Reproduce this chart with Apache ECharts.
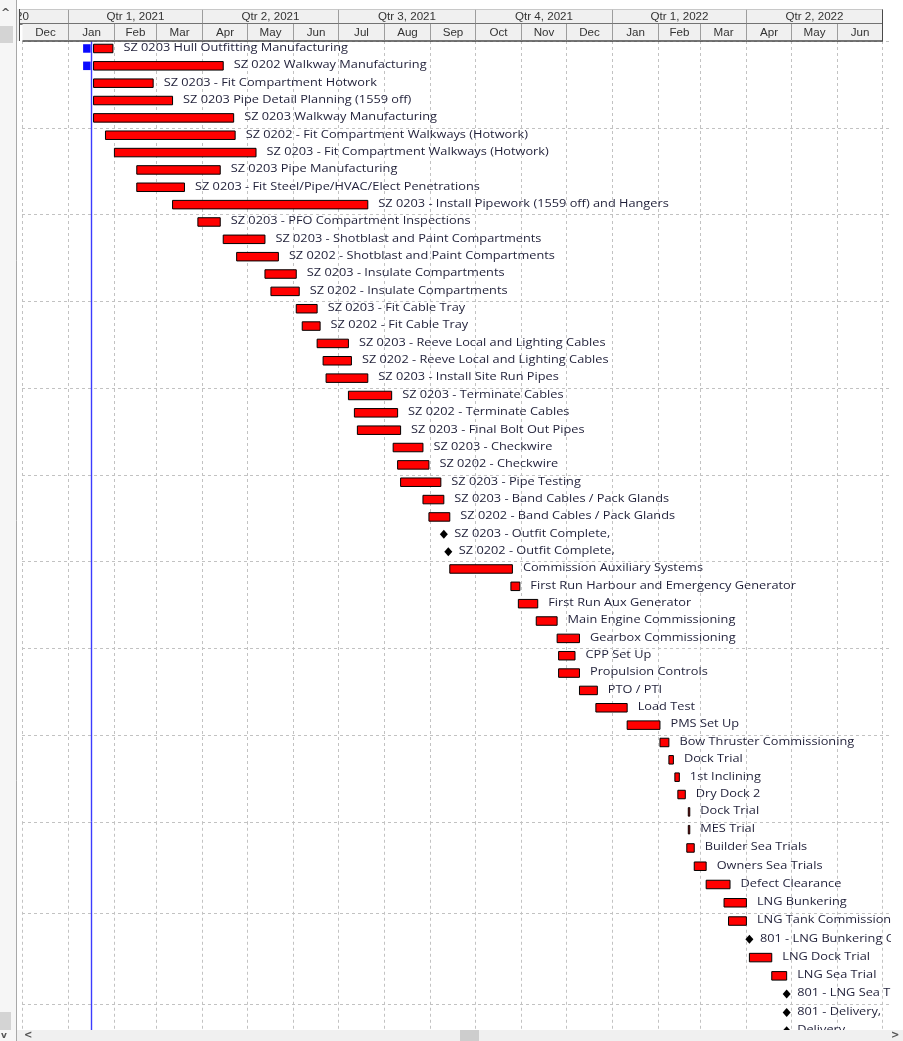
<!DOCTYPE html>
<html>
<head>
<meta charset="utf-8">
<title>Outfitting Gantt</title>
<script src="https://cdn.jsdelivr.net/npm/echarts@6/dist/echarts.min.js"></script>
<style>
  html, body { margin: 0; padding: 0; background: #fff; }
  #chart { width: 903px; height: 1041px; }
</style>
</head>
<body>
<div id="chart"></div>
<script>
// ---------------------------------------------------------------------------
// Data
// ---------------------------------------------------------------------------

const quarterLabels = ['Qtr 4, 2020', 'Qtr 1, 2021', 'Qtr 2, 2021', 'Qtr 3, 2021', 'Qtr 4, 2021', 'Qtr 1, 2022', 'Qtr 2, 2022']
const quarterStarts = ['2020-10-01', '2021-01-01', '2021-04-01', '2021-07-01', '2021-10-01', '2022-01-01', '2022-04-01']
const quarterEnds   = ['2021-01-01', '2021-04-01', '2021-07-01', '2021-10-01', '2022-01-01', '2022-04-01', '2022-07-01']

const monthLabels = ['Dec', 'Jan', 'Feb', 'Mar', 'Apr', 'May', 'Jun', 'Jul', 'Aug', 'Sep', 'Oct', 'Nov', 'Dec',
  'Jan', 'Feb', 'Mar', 'Apr', 'May', 'Jun']
const monthStarts = ['2020-12-01', '2021-01-01', '2021-02-01', '2021-03-01', '2021-04-01', '2021-05-01', '2021-06-01',
  '2021-07-01', '2021-08-01', '2021-09-01', '2021-10-01', '2021-11-01', '2021-12-01',
  '2022-01-01', '2022-02-01', '2022-03-01', '2022-04-01', '2022-05-01', '2022-06-01']
const monthEnds = ['2021-01-01', '2021-02-01', '2021-03-01', '2021-04-01', '2021-05-01', '2021-06-01', '2021-07-01',
  '2021-08-01', '2021-09-01', '2021-10-01', '2021-11-01', '2021-12-01', '2022-01-01',
  '2022-02-01', '2022-03-01', '2022-04-01', '2022-05-01', '2022-06-01', '2022-07-01']

const taskNames = [
  'SZ 0203 Hull Outfitting Manufacturing',
  'SZ 0202 Walkway Manufacturing',
  'SZ 0203 - Fit Compartment Hotwork',
  'SZ 0203 Pipe Detail Planning (1559 off)',
  'SZ 0203 Walkway Manufacturing',
  'SZ 0202 - Fit Compartment Walkways (Hotwork)',
  'SZ 0203 - Fit Compartment Walkways (Hotwork)',
  'SZ 0203 Pipe Manufacturing',
  'SZ 0203 - Fit Steel/Pipe/HVAC/Elect Penetrations',
  'SZ 0203 - Install Pipework (1559 off) and Hangers',
  'SZ 0203 - PFO Compartment Inspections',
  'SZ 0203 - Shotblast and Paint Compartments',
  'SZ 0202 - Shotblast and Paint Compartments',
  'SZ 0203 - Insulate Compartments',
  'SZ 0202 - Insulate Compartments',
  'SZ 0203 - Fit Cable Tray',
  'SZ 0202 - Fit Cable Tray',
  'SZ 0203 - Reeve Local and Lighting Cables',
  'SZ 0202 - Reeve Local and Lighting Cables',
  'SZ 0203 - Install Site Run Pipes',
  'SZ 0203 - Terminate Cables',
  'SZ 0202 - Terminate Cables',
  'SZ 0203 - Final Bolt Out Pipes',
  'SZ 0203 - Checkwire',
  'SZ 0202 - Checkwire',
  'SZ 0203 - Pipe Testing',
  'SZ 0203 - Band Cables / Pack Glands',
  'SZ 0202 - Band Cables / Pack Glands',
  'SZ 0203 - Outfit Complete,',
  'SZ 0202 - Outfit Complete,',
  'Commission Auxiliary Systems',
  'First Run Harbour and Emergency Generator',
  'First Run Aux Generator',
  'Main Engine Commissioning',
  'Gearbox Commissioning',
  'CPP Set Up',
  'Propulsion Controls',
  'PTO / PTI',
  'Load Test',
  'PMS Set Up',
  'Bow Thruster Commissioning',
  'Dock Trial',
  '1st Inclining',
  'Dry Dock 2',
  'Dock Trial',
  'MES Trial',
  'Builder Sea Trials',
  'Owners Sea Trials',
  'Defect Clearance',
  'LNG Bunkering',
  'LNG Tank Commissioning',
  '801 - LNG Bunkering Complete,',
  'LNG Dock Trial',
  'LNG Sea Trial',
  '801 - LNG Sea Trial Complete,',
  '801 - Delivery,',
  'Delivery',
]

const taskStarts = [
  '2021-01-18', '2021-01-18', '2021-01-18', '2021-01-18', '2021-01-18',
  '2021-01-26', '2021-02-01', '2021-02-16', '2021-02-16', '2021-03-12',
  '2021-03-29', '2021-04-15', '2021-04-24', '2021-05-13', '2021-05-17',
  '2021-06-03', '2021-06-07', '2021-06-17', '2021-06-21', '2021-06-23',
  '2021-07-08', '2021-07-12', '2021-07-14', '2021-08-07', '2021-08-10',
  '2021-08-12', '2021-08-27', '2021-08-31', '2021-09-10', '2021-09-13',
  '2021-09-14', '2021-10-25', '2021-10-30', '2021-11-11', '2021-11-25',
  '2021-11-26', '2021-11-26', '2021-12-10', '2021-12-21', '2022-01-11',
  '2022-02-02', '2022-02-08', '2022-02-12', '2022-02-14', '2022-02-21',
  '2022-02-21', '2022-02-20', '2022-02-25', '2022-03-05', '2022-03-17',
  '2022-03-20', '2022-04-03', '2022-04-03', '2022-04-18', '2022-04-28',
  '2022-04-28', '2022-04-28',
]

// null = milestone (diamond)
const taskEnds = [
  '2021-01-31', '2021-04-15', '2021-02-27', '2021-03-12', '2021-04-22',
  '2021-04-23', '2021-05-07', '2021-04-13', '2021-03-20', '2021-07-21',
  '2021-04-13', '2021-05-13', '2021-05-22', '2021-06-03', '2021-06-05',
  '2021-06-17', '2021-06-19', '2021-07-08', '2021-07-10', '2021-07-21',
  '2021-08-06', '2021-08-10', '2021-08-12', '2021-08-27', '2021-08-31',
  '2021-09-08', '2021-09-10', '2021-09-14', null, null,
  '2021-10-26', '2021-10-31', '2021-11-12', '2021-11-25', '2021-12-10',
  '2021-12-07', '2021-12-10', '2021-12-22', '2022-01-11', '2022-02-02',
  '2022-02-08', '2022-02-11', '2022-02-15', '2022-02-19', '2022-02-22',
  '2022-02-22', '2022-02-25', '2022-03-05', '2022-03-21', '2022-04-01',
  '2022-04-01', null, '2022-04-18', '2022-04-28', null,
  null, null,
]

// small blue blocks ahead of the first two tasks
const earlyRows = [0, 1]
const earlyStarts = ['2021-01-11', '2021-01-11']
const earlyEnds = ['2021-01-16', '2021-01-16']

const statusDate = '2021-01-16'

// ---------------------------------------------------------------------------
// Layout / style
// ---------------------------------------------------------------------------

const SPLIT_ROW = 45          // rows after this one are drawn a bit taller
const ROW_H_A = 17.35
const ROW_H_B = 18.4
const BODY_TOP = 41
const BAR_H = 8.5
const BAR_SHIFT = -1.2
const TEXT_SHIFT = -2
const LABEL_GAP = 10.5
const TEXT_STRETCH = 1.16     // the screenshot is stretched sideways
const QTR_H = 15
const MON_H = 17
const LABEL_FONT = '11px "Open Sans"'
const LABEL_COLOR = '#1f1f38'
const HEAD_FONT = '10px "Liberation Sans"'
const GRID_COLOR = '#c2c2c2'

const ts = (s) => new Date(s + 'T00:00:00').getTime()

const X_MIN = ts('2020-12-01')
const X_MAX = ts('2022-07-07')

const gridA = { left: 22, right: 12, top: BODY_TOP, height: SPLIT_ROW * ROW_H_A }
const gridB = { left: 22, right: 12, top: BODY_TOP + SPLIT_ROW * ROW_H_A, height: (taskNames.length - SPLIT_ROW) * ROW_H_B }
const gridH = { left: 22, right: 12, top: 9, height: QTR_H + MON_H }

// ---------------------------------------------------------------------------
// Render helpers
// ---------------------------------------------------------------------------

function renderTask(params, api) {
  const i = api.value(3)
  const row = api.value(2)
  const p0 = api.coord([api.value(0), row])
  const p1 = api.coord([api.value(1), row])
  const barY = p0[1] + BAR_SHIFT
  const children = []
  let textX
  if (taskEnds[i] === null) {
    children.push({
      type: 'polygon',
      shape: { points: [[p0[0], barY - 4.5], [p0[0] + 4, barY], [p0[0], barY + 4.5], [p0[0] - 4, barY]] },
      style: { fill: '#000' },
    })
    textX = p0[0] + LABEL_GAP
  } else {
    children.push({
      type: 'rect',
      shape: { x: p0[0], y: barY - BAR_H / 2, width: Math.max(p1[0] - p0[0], 0.5), height: BAR_H },
      style: { fill: '#ff0000', stroke: '#000', lineWidth: 1 },
    })
    textX = p1[0] + LABEL_GAP
  }
  children.push({
    type: 'text',
    x: textX,
    y: p0[1] + TEXT_SHIFT,
    scaleX: TEXT_STRETCH,
    style: { text: taskNames[i], font: LABEL_FONT, fill: LABEL_COLOR, align: 'left', verticalAlign: 'middle' },
  })
  return { type: 'group', children }
}

function renderEarly(params, api) {
  const row = api.value(2)
  const p0 = api.coord([api.value(0), row])
  const p1 = api.coord([api.value(1), row])
  return {
    type: 'rect',
    shape: { x: p0[0], y: p0[1] + BAR_SHIFT - BAR_H / 2, width: p1[0] - p0[0], height: BAR_H },
    style: { fill: '#0a0aff' },
  }
}

function renderVLine(color, dash, width) {
  return function (params, api) {
    const cs = params.coordSys
    const x = Math.round(api.coord([api.value(0), 0])[0]) + 0.5
    return {
      type: 'line',
      shape: { x1: x, y1: cs.y, x2: x, y2: cs.y + cs.height },
      style: { stroke: color, lineWidth: width, lineDash: dash },
    }
  }
}

function renderHeader(labels, rowOffset, rowH) {
  return function (params, api) {
    const cs = params.coordSys
    const x0 = Math.round(api.coord([api.value(0), 0])[0]) + 0.5
    const x1 = Math.round(api.coord([api.value(1), 0])[0]) + 0.5
    const top = cs.y + rowOffset
    const children = [
      { type: 'rect', shape: { x: x0, y: top, width: x1 - x0, height: rowH }, style: { fill: '#f0f0f0' } },
      { type: 'line', shape: { x1: x1, y1: top, x2: x1, y2: top + rowH }, style: { stroke: '#4a4a4a', lineWidth: 1 } },
      { type: 'line', shape: { x1: x0, y1: top + rowH, x2: x1 + 0.5, y2: top + rowH }, style: { stroke: '#4a4a4a', lineWidth: 1.6 } },
      {
        type: 'text', x: (x0 + x1) / 2, y: top + rowH / 2 + 0.5, scaleX: TEXT_STRETCH,
        style: { text: labels[params.dataIndex], font: HEAD_FONT, fill: '#333', align: 'center', verticalAlign: 'middle' },
      },
    ]
    if (rowOffset === 0) {
      children.push({ type: 'line', shape: { x1: x0, y1: top + 0.5, x2: x1, y2: top + 0.5 }, style: { stroke: '#c8c8c8', lineWidth: 1 } })
    }
    return { type: 'group', children }
  }
}

// ---------------------------------------------------------------------------
// Build option
// ---------------------------------------------------------------------------

const rowIdx = taskNames.map((_, i) => i)
const rowsA = rowIdx.slice(0, SPLIT_ROW)
const rowsB = rowIdx.slice(SPLIT_ROW)

function taskData(rows, offset) {
  return rows.map((i) => [ts(taskStarts[i]), ts(taskEnds[i] ?? taskStarts[i]), i - offset, i])
}

const monthLines = [monthStarts[0], ...monthEnds].map((d) => [ts(d), 0])

const xAxisBase = {
  type: 'time', min: X_MIN, max: X_MAX,
  axisLine: { show: false }, axisTick: { show: false }, axisLabel: { show: false }, splitLine: { show: false },
}

function yCat(rows) {
  return {
    type: 'category', inverse: true, data: rows.map(String),
    axisLine: { show: false }, axisTick: { show: false }, axisLabel: { show: false },
    splitLine: { show: true, interval: 4, lineStyle: { color: GRID_COLOR, type: [3, 3], width: 1 } },
  }
}

function bodySeries(gi, rows, offset) {
  return [
    {
      type: 'custom', xAxisIndex: gi, yAxisIndex: gi, z: 1, silent: true,
      renderItem: renderVLine(GRID_COLOR, [3, 3], 1),
      encode: { x: 0, y: 1 }, data: monthLines,
    },
    {
      type: 'custom', xAxisIndex: gi, yAxisIndex: gi, z: 2, silent: true,
      renderItem: renderVLine('#3c3cff', null, 1.4),
      encode: { x: 0, y: 1 }, data: [[ts(statusDate), 0]],
    },
    {
      type: 'custom', xAxisIndex: gi, yAxisIndex: gi, z: 3, clip: true, silent: true,
      renderItem: renderTask,
      encode: { x: [0, 1], y: 2 }, data: taskData(rows, offset),
    },
  ]
}

const option = {
  animation: false,
  backgroundColor: '#ffffff',
  grid: [gridA, gridB, gridH],
  xAxis: [{ ...xAxisBase, gridIndex: 0 }, { ...xAxisBase, gridIndex: 1 }, { ...xAxisBase, gridIndex: 2 }],
  yAxis: [
    { ...yCat(rowsA), gridIndex: 0 },
    { ...yCat(rowsB), gridIndex: 1 },
    { type: 'value', min: 0, max: 1, gridIndex: 2, show: false },
  ],
  series: [
    ...bodySeries(0, rowsA, 0),
    ...bodySeries(1, rowsB, SPLIT_ROW),
    {
      type: 'custom', xAxisIndex: 0, yAxisIndex: 0, z: 3, silent: true,
      renderItem: renderEarly,
      encode: { x: [0, 1], y: 2 },
      data: earlyRows.map((r, k) => [ts(earlyStarts[k]), ts(earlyEnds[k]), r]),
    },
    {
      type: 'custom', xAxisIndex: 2, yAxisIndex: 2, z: 5, silent: true,
      renderItem: renderHeader(quarterLabels, 0, QTR_H),
      encode: { x: [0, 1], y: 2 },
      data: quarterStarts.map((s, k) => [ts(s), ts(quarterEnds[k]), 0.5]),
    },
    {
      type: 'custom', xAxisIndex: 2, yAxisIndex: 2, z: 5, silent: true,
      renderItem: renderHeader(monthLabels, QTR_H, MON_H),
      encode: { x: [0, 1], y: 2 },
      data: monthStarts.map((s, k) => [ts(s), ts(monthEnds[k]), 0.5]),
    },
  ],
  // window chrome: table-pane scrollbar on the left, horizontal scrollbar at the bottom
  graphic: [
    { type: 'rect', z: 100, shape: { x: 0, y: 0, width: 16, height: 1041 }, style: { fill: '#f6f6f6' } },
    { type: 'rect', z: 101, shape: { x: 0, y: 26, width: 13, height: 17 }, style: { fill: '#d4d4d4' } },
    { type: 'rect', z: 101, shape: { x: 0, y: 1012, width: 11, height: 18 }, style: { fill: '#d4d4d4' } },
    { type: 'text', z: 101, x: 1, y: 8, style: { text: '^', font: 'bold 11px "DejaVu Sans"', fill: '#555' } },
    { type: 'text', z: 101, x: 1, y: 1031, style: { text: 'v', font: 'bold 9px "DejaVu Sans"', fill: '#555' } },
    { type: 'line', z: 101, shape: { x1: 16.5, y1: 0, x2: 16.5, y2: 1041 }, style: { stroke: '#a8a8a8', lineWidth: 1 } },
    { type: 'rect', z: 100, shape: { x: 17, y: 9, width: 2, height: 32 }, style: { fill: '#f0f0f0' } },
    { type: 'line', z: 101, shape: { x1: 19.5, y1: 9, x2: 19.5, y2: 41 }, style: { stroke: '#4a4a4a', lineWidth: 1 } },
    { type: 'rect', z: 100, shape: { x: 17, y: 1030, width: 886, height: 11 }, style: { fill: '#f0f0f0' } },
    { type: 'rect', z: 101, shape: { x: 460, y: 1030, width: 19, height: 11 }, style: { fill: '#cdcdcd' } },
    { type: 'text', z: 101, x: 24, y: 1030, style: { text: '<', font: 'bold 10px "DejaVu Sans"', fill: '#555' } },
    { type: 'text', z: 101, x: 891, y: 1030, style: { text: '>', font: 'bold 10px "DejaVu Sans"', fill: '#555' } },
  ],
}

const chart = echarts.init(document.getElementById('chart'), null, { renderer: 'canvas' })
chart.setOption(option)
window.addEventListener('resize', () => chart.resize())
</script>
</body>
</html>
